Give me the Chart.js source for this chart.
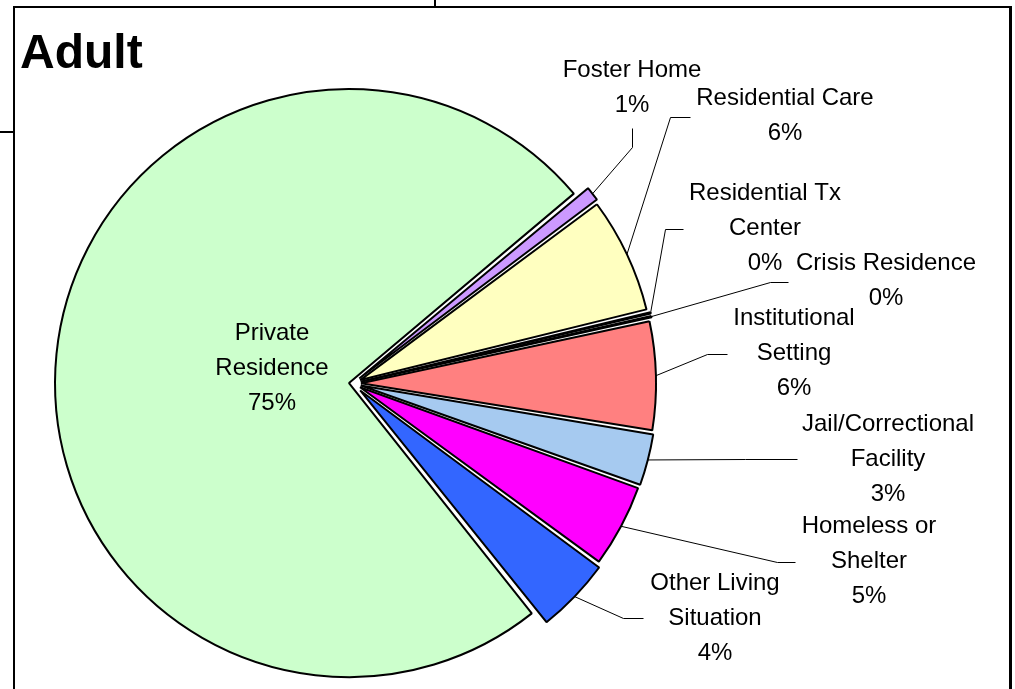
<!DOCTYPE html>
<html>
<head>
<meta charset="utf-8">
<script src="https://cdn.jsdelivr.net/npm/chart.js@4/dist/chart.umd.min.js"></script>
<style>
  html, body { margin: 0; padding: 0; background: #fff; }
  #wrap { position: relative; width: 1015px; height: 689px; overflow: hidden; }
  #frame { position: absolute; left: 13px; top: 6px; width: 999px; height: 800px;
           box-sizing: border-box; border-style: solid; border-color: #000;
           border-width: 2px 3px 2px 2px; }
  .tick { position: absolute; background: #000; }
  #chart { position: absolute; left: 0; top: 0; }
</style>
</head>
<body>
<div id="wrap">
  <div id="frame"></div>
  <div class="tick" style="left:434px; top:0; width:2px; height:7px;"></div>
  <div class="tick" style="left:0; top:131px; width:14px; height:2px;"></div>
  <canvas id="chart" width="1015" height="689"></canvas>
</div>
<script>
// data (percent of adults by living situation)
const categories = [
    ['Foster Home'],
    ['Residential Care'],
    ['Residential Tx', 'Center'],
    ['Crisis Residence'],
    ['Institutional', 'Setting'],
    ['Jail/Correctional', 'Facility'],
    ['Homeless or', 'Shelter'],
    ['Other Living', 'Situation'],
    ['Private', 'Residence'],
];
const values = [0.9, 6.4, 0.2, 0.2, 6.0, 2.9, 4.6, 4.2, 74.6];

const colors = ['#CC99FF', '#FFFFC0', '#33CCCC', '#00FFFF', '#FF8080',
                '#A6CAF0', '#FF00FF', '#3366FF', '#CCFFCC'];
const explode = [32, 32, 32, 32, 32, 32, 32, 40, 16];

// where Excel had the data labels (text centre x, first baseline) and leader bends
const labelLayout = [
    { x: 632, y: 77,  leader: [[632, 147], [632, 128]] },
    { x: 785, y: 105, leader: [[670, 117], [690, 117]] },
    { x: 765, y: 200, leader: [[665, 229], [683, 229]] },
    { x: 886, y: 270, leader: [[770, 282], [788, 282]] },
    { x: 794, y: 325, leader: [[707, 354], [727, 354]] },
    { x: 888, y: 431, leader: [[745, 459], [797, 459]] },
    { x: 869, y: 533, leader: [[777, 562], [795, 562]] },
    { x: 715, y: 590, leader: [[623, 618], [643, 618]] },
    { x: 272, y: 340, leader: null },
];

const labelFont = '24px "Liberation Sans", Arial, sans-serif';
const lineGap = 35;

const sliceLabels = {
    id: 'sliceLabels',
    afterDatasetsDraw(chart) {
        const ctx = chart.ctx;
        const ds = chart.data.datasets[0];
        const meta = chart.getDatasetMeta(0);
        const total = ds.data.reduce((a, b) => a + b, 0);
        ctx.save();
        ctx.strokeStyle = '#000';
        ctx.lineWidth = 1;
        meta.data.forEach((arc, i) => {
            const lay = labelLayout[i];
            if (!lay.leader) return;
            const p = arc.getProps(['x', 'y', 'startAngle', 'endAngle', 'outerRadius', 'circumference']);
            const mid = (p.startAngle + p.endAngle) / 2;
            const off = (ds.offset[i] || 0) / 4;
            const fix = 1 - Math.sin(Math.min(Math.PI, p.circumference));
            const r = off + p.outerRadius + off * fix;
            ctx.beginPath();
            ctx.moveTo(p.x + Math.cos(mid) * r, p.y + Math.sin(mid) * r);
            lay.leader.forEach(pt => ctx.lineTo(pt[0] + 0.5, pt[1] + 0.5));
            ctx.stroke();
        });
        ctx.fillStyle = '#000';
        ctx.font = labelFont;
        ctx.textAlign = 'center';
        ctx.textBaseline = 'alphabetic';
        chart.data.labels.forEach((lines, i) => {
            const lay = labelLayout[i];
            const pct = Math.round(ds.data[i] / total * 100) + '%';
            lines.concat([pct]).forEach((t, k) => ctx.fillText(t, lay.x, lay.y + k * lineGap));
        });
        ctx.font = 'bold 48px "Liberation Sans", Arial, sans-serif';
        ctx.textAlign = 'left';
        ctx.fillText('Adult', 20, 68);
        ctx.restore();
    }
};

const ctx = document.querySelector('#chart').getContext('2d');
const chart = new Chart(ctx, {
    type: 'pie',
    data: {
        labels: categories,
        datasets: [{
            data: values,
            backgroundColor: colors,
            borderColor: '#000',
            borderWidth: 2,
            offset: explode,
        }]
    },
    options: {
        responsive: false,
        animation: false,
        rotation: 50,
        radius: 290,
        layout: { padding: { left: 0, right: 309, top: 78, bottom: 0 } },
        plugins: {
            legend: { display: false },
            tooltip: { enabled: false },
            title: { display: false },
        }
    },
    plugins: [sliceLabels]
});
</script>
</body>
</html>
